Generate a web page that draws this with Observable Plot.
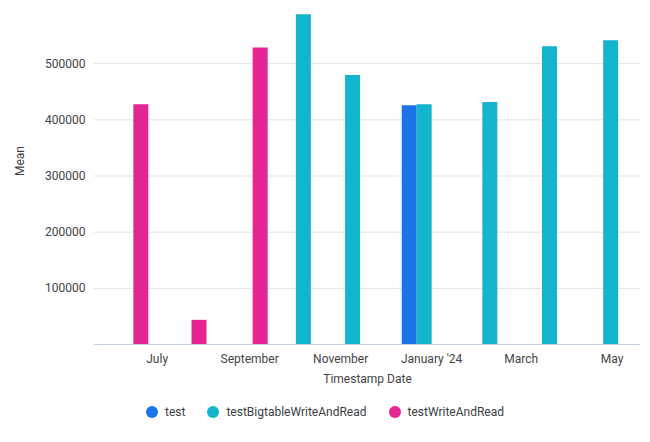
<!DOCTYPE html>
<html>
<head>
<meta charset="utf-8">
<script src="https://cdn.jsdelivr.net/npm/d3@7"></script>
<script src="https://cdn.jsdelivr.net/npm/@observablehq/plot@0.6"></script>
<style>
  html, body { margin: 0; padding: 0; background: #fff; }
  body { width: 650px; height: 442px; overflow: hidden; font-family: Roboto, sans-serif; }
  #legend { display: flex; justify-content: center; align-items: center; gap: 22px; margin-top: 13px; font-size: 12px; color: #3c4043; }
  .item { display: flex; align-items: center; gap: 7px; }
  .dot { width: 12px; height: 12px; border-radius: 50%; display: inline-block; }
</style>
</head>
<body>
<div id="chart"></div>
<div id="legend"></div>
<script>
// ---- data ----
const seriesNames = ["test", "testBigtableWriteAndRead", "testWriteAndRead"];
const seriesColors = ["#1a73e8", "#12b5cb", "#e52592"];
const dates = ["2023-06-10", "2023-07-19", "2023-08-29", "2023-10-07", "2023-11-09", "2023-12-27", "2023-12-27", "2024-02-09", "2024-03-20", "2024-04-30"];
const seriesIndex = [2, 2, 2, 1, 1, 0, 1, 1, 1, 1];
const means = [427000, 43000, 528000, 587000, 479000, 425000, 427000, 431000, 530000, 541000];
const xTickDates = ["2023-07-01", "2023-09-01", "2023-11-01", "2024-01-01", "2024-03-01", "2024-05-01"];
const xTickLabels = ["July", "September", "November", "January '24", "March", "May"];
const yTicks = [100000, 200000, 300000, 400000, 500000];

const data = dates.map((d, i) => ({date: new Date(d + "T00:00:00"), series: seriesNames[seriesIndex[i]], mean: means[i]}));
const tickDates = xTickDates.map(d => new Date(d + "T00:00:00"));
const labelOf = new Map(tickDates.map((d, i) => [+d, xTickLabels[i]]));
const offsets = [-15, 0, 15];

const barMarks = seriesNames.map((s, k) =>
  Plot.ruleX(data.filter(d => d.series === s), {
    x: "date", y1: 0, y2: "mean", stroke: seriesColors[k], strokeWidth: 15, dx: offsets[k]
  })
);

const chart = Plot.plot({
  width: 650,
  height: 392,
  marginLeft: 94,
  marginRight: 10,
  marginTop: 7,
  marginBottom: 48,
  style: {fontFamily: "Roboto, sans-serif", fontSize: "12px", color: "#444", background: "#fff"},
  x: {type: "time", domain: [new Date("2023-05-20T00:00:00"), new Date("2024-05-20T00:00:00")], ticks: tickDates, tickFormat: d => labelOf.get(+d), tickSize: 0, tickPadding: 10, label: null},
  y: {domain: [0, 600000], ticks: yTicks, tickFormat: d3.format("d"), tickSize: 0, tickPadding: 9, label: null},
  marks: [
    Plot.ruleY(yTicks, {stroke: "#e3e3e3"}),
    ...barMarks,
    Plot.ruleY([0], {stroke: "#c6d1e6"}),
    Plot.text(["Timestamp Date"], {frameAnchor: "bottom", dy: 38, fill: "#444", fontSize: 12}),
    Plot.text(["Mean"], {frameAnchor: "left", dx: -74, rotate: -90, fill: "#444", fontSize: 12})
  ]
});
document.getElementById("chart").appendChild(chart);

const legend = document.getElementById("legend");
seriesNames.forEach((s, k) => {
  const item = document.createElement("div");
  item.className = "item";
  const dot = document.createElement("span");
  dot.className = "dot";
  dot.style.background = seriesColors[k];
  const label = document.createElement("span");
  label.textContent = s;
  item.appendChild(dot);
  item.appendChild(label);
  legend.appendChild(item);
});
</script>
</body>
</html>
